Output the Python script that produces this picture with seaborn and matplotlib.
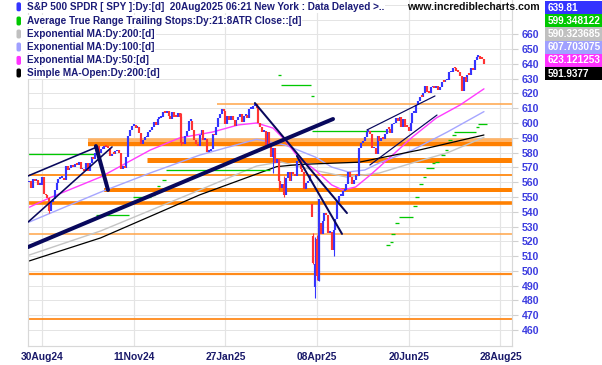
import numpy as np
import pandas as pd
import matplotlib
matplotlib.use("Agg")
import matplotlib.pyplot as plt
import seaborn as sns
from matplotlib.patches import FancyBboxPatch, Rectangle
from matplotlib.transforms import IdentityTransform

# ---------------- data (daily closes, 21 Aug 2024 -> 19 Aug 2025) ----------------
closes = [
    # Aug 2024
    560.6, 556.2, 562.1, 560.8, 561.6, 558.3, 558.4, 563.7,
    # Sep
    552.1, 551.0, 549.6, 540.4, 546.4, 548.8, 554.4, 559.1, 562.0, 562.8,
    563.1, 561.4, 571.0, 568.3, 569.7, 571.3, 570.0, 572.3, 571.5, 573.8,
    # Oct
    568.6, 568.9, 567.8, 573.0, 567.8, 573.2, 577.1, 575.9, 579.6, 584.3,
    579.8, 582.3, 582.4, 584.6, 583.6, 583.3, 578.0, 579.2, 579.0, 580.8,
    581.8, 580.0, 568.6,
    # Nov
    571.0, 569.8, 576.7, 591.0, 595.6, 598.2, 598.8, 596.9, 597.2, 593.4,
    585.8, 588.2, 590.3, 590.5, 593.7, 595.5, 597.5, 600.7, 598.8, 602.6,
    # Dec
    603.6, 603.9, 607.7, 606.7, 607.8, 604.7, 602.8, 607.5, 604.3, 604.2,
    606.8, 604.3, 586.3, 586.1, 591.2, 594.7, 601.3, 601.3, 595.0, 588.2,
    586.1,
    # Jan 2025
    584.6, 592.0, 595.4, 588.6, 589.5, 580.5, 581.4, 582.2, 592.8, 591.6,
    597.6, 603.1, 606.4, 609.8, 608.0, 599.4, 604.5, 601.8, 605.0, 601.8,
    # Feb
    597.8, 601.8, 604.2, 606.3, 600.8, 604.9, 605.3, 603.4, 609.7, 609.7,
    611.5, 612.9, 610.4, 599.9, 597.2, 594.2, 594.5, 584.3, 594.2,
    # Mar
    583.8, 576.9, 583.1, 572.7, 575.9, 560.6, 555.9, 558.9, 551.4, 562.8,
    567.2, 561.0, 567.1, 565.5, 564.0, 574.1, 575.5, 568.6, 567.1, 555.7,
    559.4,
    # Apr
    561.0, 564.5, 536.7, 505.3, 504.4, 496.5, 548.6, 524.6, 533.9, 539.1,
    537.6, 525.7, 526.4, 513.9, 527.3, 535.4, 546.7, 550.6, 550.9, 554.3,
    554.5,
    # May
    558.5, 566.8, 563.5, 558.8, 561.2, 565.1, 564.3, 583.0, 586.8, 587.6,
    590.5, 594.2, 594.9, 592.9, 582.9, 583.1, 579.1, 591.2, 587.7, 590.0,
    589.4,
    # Jun
    592.7, 596.1, 596.0, 593.1, 599.1, 599.7, 603.1, 601.4, 603.8, 597.0,
    602.7, 597.5, 597.4, 594.3, 600.2, 606.8, 607.1, 611.9, 614.9, 617.9,
    # Jul
    617.7, 620.5, 625.3, 620.7, 620.3, 624.1, 625.0, 623.6, 624.8, 622.1,
    624.2, 628.0, 627.6, 628.8, 628.9, 634.2, 634.4, 637.1, 636.9, 635.3,
    634.5, 632.1,
    # Aug
    621.7, 631.2, 628.0, 632.8, 632.3, 637.2, 635.9, 642.7, 644.9, 645.0,
    643.4, 643.3, 639.8,
]
first_open = 559.8

# gap days where the open differs strongly from the previous close
gap_idx = [154, 155, 156, 157, 158, 159]
gap_open = [545.1, 523.7, 489.2, 521.6, 493.4, 532.2]

# intraday extremes that stand out
wick_idx = [155, 156, 157, 158, 166, 11, 83, 136, 139, 133]
wick_lo = [504.7, 481.8, 493.5, 493.0, 510.0, 539.4, 585.0, 555.0, 549.7, 566.0]
wick_hi = [525.9, 523.2, 524.0, 548.6, 524.0, 550.0, 607.0, 565.0, 564.0, 578.0]

date_tick_pos = [7, 57, 107, 157, 207, 257]
date_tick_labels = ["30Aug24", "11Nov24", "27Jan25", "08Apr25", "20Jun25", "28Aug25"]
price_ticks = list(range(460, 661, 10))

# moving averages (bar index, price)
ema50_idx = [0, 11, 39, 66, 82, 100, 114, 124, 133, 139.5, 146.6, 156, 165, 171, 178, 186, 197, 209, 222, 235, 248]
ema50_val = [543.0, 549.3, 563.5, 581.7, 589.9, 593.9, 598.7, 600.0, 596.6, 588.5, 577.0, 568.2, 558.1, 554.7,
             556.7, 564.8, 577.0, 590.5, 603.4, 612.2, 623.1]
ema100_idx = [0, 39, 66, 93, 124, 139.5, 146.6, 156, 165, 174, 183, 191, 209, 228, 248]
ema100_val = [533.0, 553.3, 566.2, 578.3, 589.0, 585.1, 581.7, 577.0, 570.2, 566.9, 568.2, 573.0, 581.7, 593.9, 607.7]
ema200_idx = [0, 39, 93, 124, 137, 155, 173, 191, 209, 228, 248]
ema200_val = [510.7, 527.0, 554.7, 570.9, 573.7, 568.2, 563.5, 566.2, 573.0, 579.8, 590.3]
sma_idx = [0, 39, 93, 135, 148, 180, 213, 248]
sma_val = [506.7, 522.3, 551.4, 570.5, 572.0, 573.5, 581.8, 591.9]

# ATR trailing stop steps (start bar, end bar, price)
atr_start = [0, 37, 57, 67, 70, 73, 75, 136, 138, 154, 155, 195, 197, 198, 200, 202, 210, 211, 213, 215,
             217, 220, 222, 225, 227, 229, 231, 232, 244, 245]
atr_end = [37, 54, 66, 68, 71, 74, 131, 137, 153, 155, 195, 196, 198, 199, 201, 209, 211, 212, 214, 216,
           220, 221, 223, 226, 228, 230, 232, 243, 245, 249]
atr_price = [579.0, 537.5, 550.0, 551.3, 557.4, 561.5, 568.2, 632.5, 625.4, 618.2, 594.6, 517.7, 519.7, 525.0,
             532.4, 536.5, 543.9, 550.0, 558.8, 563.5, 569.6, 573.0, 573.6, 578.4, 581.7, 588.5, 591.8, 593.9,
             597.3, 599.3]

# horizontal support / resistance levels
level_price = [612.9, 588.7, 585.5, 575.3, 565.0, 554.7, 545.6, 525.1, 497.6, 467.3]
level_start = [102.4, 32.1, 32.1, 64.3, -0.6, 40.8, -0.6, -0.6, -0.6, -0.6]

# trend lines (bar index / price end points)
trend_x0 = [-0.6, -0.6, 36.4, -0.6, 123.1, 146.0, 184.2, 185.8]
trend_y0 = [564.2, 533.0, 584.4, 516.1, 613.5, 577.7, 595.3, 571.6]
trend_x1 = [37.0, 45.2, 43.0, 165.7, 173.3, 170.6, 221.3, 222.4]
trend_y1 = [583.8, 583.8, 554.7, 602.7, 539.1, 525.0, 618.3, 605.4]

legend_labels = [
    "S&P 500 SPDR [ SPY ]:Dy:[d]  20Aug2025 06:21 New York : Data Delayed >..",
    "Average True Range Trailing Stops:Dy:21:8ATR Close::[d]",
    "Exponential MA:Dy:200:[d]",
    "Exponential MA:Dy:100:[d]",
    "Exponential MA:Dy:50:[d]",
    "Simple MA-Open:Dy:200:[d]",
]
last_values = ["639.81", "599.348122", "590.323685", "607.703075", "623.121253", "591.9377"]

# ---------------- styling ----------------
sns.set_theme(style="white")
plt.rcParams['font.family'] = ['Liberation Sans', 'DejaVu Sans']

C_UP = "#3434ff"
C_DN = "#ff3434"
C_EMA200 = "#c4c4c4"
C_EMA100 = "#a6a6ff"
C_EMA50 = "#ff3cff"
C_SMA = "#000000"
C_ATR = "#00c800"
NAVY = "#08085c"
TXT = "#1b1b78"
series_colors = [C_UP, C_ATR, "#c0c0c0", "#a0a0ff", "#ff33ff", "#000000"]

W, H = 602, 365
fig = plt.figure(figsize=(W / 100, H / 100), dpi=100)
fig.patch.set_facecolor("white")
L, R, B, T = 28, 512, 346, 0
ax = fig.add_axes([L / W, (H - B) / H, (R - L) / W, (B - T) / H])
ax.set_facecolor("white")

ax.set_xlim(-0.63, 263.3)
ax.set_ylim(449.18, 683.2)

PX = 0.72  # points per pixel

# grid
for p in list(range(460, 681, 10)):
    ax.axhline(p, color="#e4e4e4", lw=1.0 * PX, zorder=0)
for xp in date_tick_pos:
    ax.axvline(xp, color="#e4e4e4", lw=1.2 * PX, zorder=0)

# support / resistance levels
level_lw = [1.6, 3.6, 4.4, 5.0, 2.0, 4.0, 3.6, 1.6, 2.2, 1.8]
level_col = ["#ffa850", "#ffb366", "#ff8000", "#ff8000", "#ff9428", "#ff8000", "#ff8000", "#ffa850",
             "#ff8a1a", "#ff8a1a"]
for p, s, lw, c in zip(level_price, level_start, level_lw, level_col):
    ax.hlines(p, s, 263.3, color=c, lw=lw * PX, zorder=1)

# moving averages via seaborn
ma_df = [
    (ema200_idx, ema200_val, C_EMA200, 1.0),
    (ema100_idx, ema100_val, C_EMA100, 1.0),
    (ema50_idx, ema50_val, C_EMA50, 1.0),
    (sma_idx, sma_val, C_SMA, 0.9),
]
for xs, ys, c, lw in ma_df:
    d = pd.DataFrame({"bar": xs, "price": ys})
    sns.lineplot(data=d, x="bar", y="price", ax=ax, color=c, lw=lw * PX * 1.4, zorder=2)

# ATR trailing stops
for s, e, p in zip(atr_start, atr_end, atr_price):
    ax.hlines(p, s - 0.5, e + 0.5, color=C_ATR, lw=1.3 * PX, zorder=2)

# candles
n = len(closes)
idx = np.arange(n)
opens = [first_open] + closes[:-1]
for gi, go in zip(gap_idx, gap_open):
    opens[gi] = go
opens = np.array(opens)
cl = np.array(closes)
lo = np.minimum(opens, cl)
hi = np.maximum(opens, cl)
hi = np.where(hi - lo < 1.2, lo + 1.2, hi)
up = cl >= opens
for wi, wl, wh in zip(wick_idx, wick_lo, wick_hi):
    ax.vlines(wi, wl, wh, color=C_UP if up[wi] else C_DN, lw=0.8, zorder=3)
ax.vlines(idx[up], lo[up], hi[up], color=C_UP, lw=1.55, zorder=3)
ax.vlines(idx[~up], lo[~up], hi[~up], color=C_DN, lw=1.55, zorder=3)

# trend lines
trend_lw = [1.6, 1.6, 4.0, 4.0, 2.0, 2.0, 1.2, 1.2]
for x0, y0, x1, y1, lw in zip(trend_x0, trend_y0, trend_x1, trend_y1, trend_lw):
    ax.plot([x0, x1], [y0, y1], color=NAVY, lw=lw * PX, solid_capstyle="round", zorder=4)

# axes
ax.set_xlabel("")
ax.set_ylabel("")
ax.yaxis.tick_right()
ax.set_yticks(price_ticks)
ax.set_yticklabels([str(v) for v in price_ticks])
ax.tick_params(axis="y", right=True, left=False, length=4, width=0.8, color="#d0d0d0", pad=3,
               labelsize=7.6, labelcolor="#3c3ce0")
for lbl in ax.get_yticklabels():
    lbl.set_fontweight("bold")
ax.set_xticks(date_tick_pos)
ax.set_xticklabels(date_tick_labels)
ax.tick_params(axis="x", bottom=True, length=0, pad=4.5, labelsize=7.4, labelcolor="#1a1a6a")
for lbl in ax.get_xticklabels():
    lbl.set_fontweight("bold")
for sp in ["left", "right", "bottom"]:
    ax.spines[sp].set_visible(True)
    ax.spines[sp].set_color("#d8d8d8")
    ax.spines[sp].set_linewidth(1.2 * PX)
ax.spines["top"].set_visible(False)

# legend rows
row_y = [6.8, 21.0, 34.0, 47.0, 60.4, 73.0]
for lab, c, y in zip(legend_labels, series_colors, row_y):
    fig.text(27 / W, 1 - y / H, lab, ha="left", va="center", fontsize=7.2, fontweight="bold",
             color=TXT, bbox=dict(facecolor="white", edgecolor="none", pad=0.8))
    fig.patches.append(FancyBboxPatch((16.5, H - y - 4.5), 4.5, 9,
                                      boxstyle="round,pad=0,rounding_size=1.8",
                                      transform=IdentityTransform(), facecolor=c, edgecolor="none",
                                      zorder=5))

fig.text(540 / W, 1 - 7.5 / H, "www.incrediblecharts.com", ha="right", va="center", fontsize=7.6,
         fontweight="bold", color="#111111")

# right value boxes
box_top = 1.0
box_h = 13.2
for i, (v, c) in enumerate(zip(last_values, series_colors)):
    y0 = box_top + i * box_h
    fig.patches.append(Rectangle((545, H - y0 - box_h), 57, box_h, transform=IdentityTransform(),
                                 facecolor=c, edgecolor="none", zorder=5))
    fig.text(547.5 / W, 1 - (y0 + box_h / 2) / H, v, ha="left", va="center", fontsize=7.2,
             fontweight="bold", color="white", zorder=6)

fig.savefig("out.png", dpi=100, facecolor="white")
